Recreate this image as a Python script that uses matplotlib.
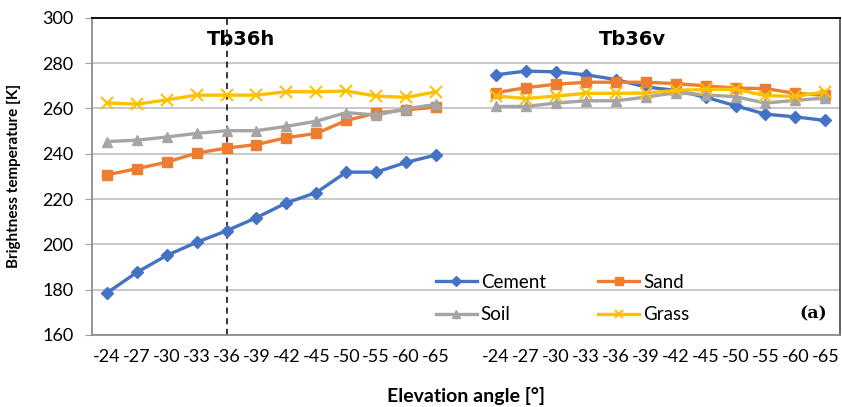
import matplotlib
matplotlib.use('Agg')
import matplotlib.pyplot as plt
import numpy as np

# elevation angles, repeated for the h- and v-polarised blocks
angles = ['-24', '-27', '-30', '-33', '-36', '-39', '-42', '-45', '-50', '-55', '-60', '-65']

# Tb36h [K]
cement_h = [178.5, 187.6, 195.1, 200.9, 206.0, 211.8, 218.3, 222.9, 231.9, 231.9, 236.2, 239.5]
sand_h   = [230.7, 233.4, 236.3, 240.3, 242.5, 244.1, 247.1, 249.0, 254.7, 258.0, 259.4, 260.6]
soil_h   = [245.4, 246.0, 247.4, 249.0, 250.2, 250.2, 252.1, 254.4, 258.2, 257.1, 259.9, 261.8]
grass_h  = [262.5, 261.9, 263.8, 265.9, 265.9, 265.9, 267.4, 267.4, 267.7, 265.5, 264.9, 267.4]

# Tb36v [K]
cement_v = [274.9, 276.5, 276.2, 274.9, 272.8, 269.5, 268.0, 265.0, 261.2, 257.5, 256.3, 254.7]
sand_v   = [267.0, 269.2, 270.7, 271.6, 271.6, 271.6, 271.0, 270.0, 269.0, 268.8, 266.7, 265.8]
soil_v   = [260.9, 260.9, 262.4, 263.4, 263.4, 265.0, 267.0, 266.0, 265.2, 262.4, 263.6, 264.6]
grass_v  = [265.5, 264.4, 265.5, 266.7, 266.7, 266.8, 268.0, 268.4, 268.5, 265.7, 265.3, 267.4]

SPLIT_ANGLE = '-36'

plt.rcParams['font.family'] = ['Lato', 'DejaVu Sans']

n = len(angles)
x_h = np.arange(n)
x_v = np.arange(n) + n + 1          # one empty slot between the two blocks
tick_pos = np.concatenate([x_h, [n], x_v])
tick_lab = angles + [''] + angles

series = [
    ('Cement', cement_h, cement_v, '#4472C4', 'D', 6),
    ('Sand',   sand_h,   sand_v,   '#ED7D31', 's', 7),
    ('Soil',   soil_h,   soil_v,   '#A5A5A5', '^', 7),
    ('Grass',  grass_h,  grass_v,  '#FFC000', 'x', 8),
]

fig = plt.figure(figsize=(8.42, 4.07), dpi=100)
ax = fig.add_axes([0.109, 0.177, 0.889, 0.779])

handles = {}
for name, yh, yv, col, mk, ms in series:
    kw = dict(color=col, marker=mk, markersize=ms, linewidth=2.4,
              markeredgewidth=1.5 if mk == 'x' else 1.0, zorder=3)
    ln, = ax.plot(x_h, yh, label=name, **kw)
    ax.plot(x_v, yv, **kw)
    handles[name] = ln

ax.axvline(angles.index(SPLIT_ANGLE), color='black', linestyle=(0, (4, 3)),
           linewidth=1.1, zorder=2)

ax.set_xlim(-0.5, 2 * n + 0.5)
ax.set_ylim(160, 300)
ax.set_yticks(np.arange(160, 301, 20))
ax.set_xticks(tick_pos)
ax.set_xticklabels(tick_lab, fontsize=13)
ax.tick_params(axis='x', length=0, pad=10)
ax.tick_params(axis='y', labelsize=13, length=5, color='#A0A0A0', pad=8)
ax.grid(axis='y', color='#BFBFBF', linewidth=1.2, zorder=0)
ax.set_axisbelow(True)

ax.spines['left'].set_color('#8C8C8C')
ax.spines['bottom'].set_color('#8C8C8C')
ax.spines['top'].set_color('black')
ax.spines['right'].set_color('#555555')
for sp in ax.spines.values():
    sp.set_linewidth(1.3)

ax.set_ylabel('Brightness temperature [K]', fontsize=11, fontweight='bold')
ax.yaxis.set_label_coords(-0.095, 0.5)
ax.set_xlabel('Elevation angle [°]', fontsize=14, fontweight='bold')
ax.xaxis.set_label_coords(0.5, -0.165)

ax.text(4.5, 290.3, 'Tb36h', fontsize=14, fontweight='black', ha='center', va='center',
        family=['DejaVu Sans'])
ax.text(17.55, 290.3, 'Tb36v', fontsize=14, fontweight='black', ha='center', va='center',
        family=['DejaVu Sans'])
ax.text(23.6, 169.3, '(a)', fontsize=12.5, fontweight='bold', ha='center', va='center',
        family=['DejaVu Serif'])

# row-major legend: Cement, Sand / Soil, Grass
order = ['Cement', 'Soil', 'Sand', 'Grass']
ax.legend(handles=[handles[k] for k in order], ncol=2, loc='center',
          bbox_to_anchor=(0.629, 0.115), frameon=False, fontsize=13.5,
          handlelength=2.2, handletextpad=0.2, columnspacing=2.8,
          labelspacing=0.85, markerscale=0.8)

fig.savefig('out.png', dpi=100)
